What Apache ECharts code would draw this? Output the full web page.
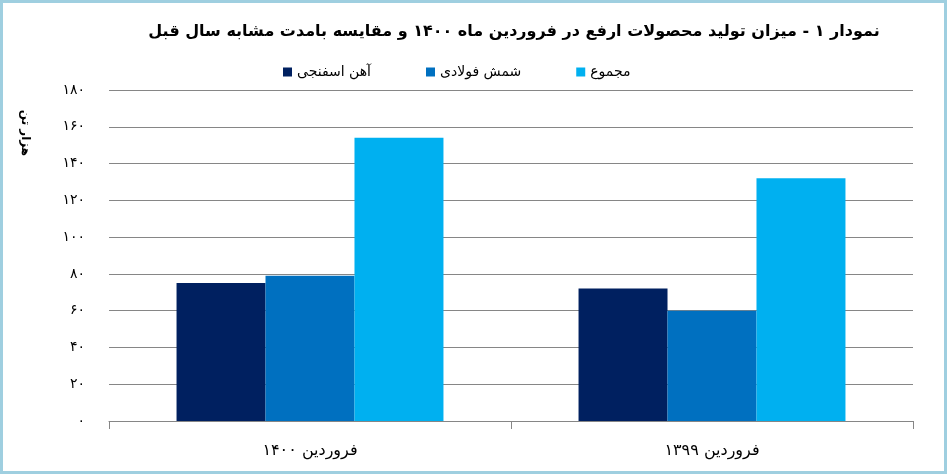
<!DOCTYPE html>
<html>
<head>
<meta charset="utf-8">
<script src="https://cdn.jsdelivr.net/npm/echarts@6/dist/echarts.min.js"></script>
<style>
  html, body { margin: 0; padding: 0; background: #fff; }
  #main { width: 947px; height: 474px; }
</style>
</head>
<body>
<div id="main"></div>
<script>
// data (thousand tonnes)
var categories = ['فروردین ۱۴۰۰', 'فروردین ۱۳۹۹'];
var seriesNames = ['آهن اسفنجی', 'شمش فولادی', 'مجموع'];
var spongeIron = [75, 72];
var steelBillet = [79, 60];
var total = [154, 132];
var faDigits = ['۰', '۱', '۲', '۳', '۴', '۵', '۶', '۷', '۸', '۹'];

var titleText = 'نمودار ۱ - میزان تولید محصولات ارفع در فروردین ماه ۱۴۰۰ و مقایسه بامدت مشابه سال قبل';
var yName = 'هزار تن';

function toFa(v) {
  return String(v).replace(/[0-9]/g, function (d) { return faDigits[+d]; });
}

var myChart = echarts.init(document.getElementById('main'));
var font = '"DejaVu Sans", sans-serif';

var option = {
  backgroundColor: '#fff',
  animation: false,
  title: {
    text: titleText,
    left: 509,
    top: 19,
    textAlign: 'center',
    textStyle: { fontFamily: font, fontSize: 16, fontWeight: 'bold', color: '#000' }
  },
  legend: {
    left: 278,
    top: 60,
    itemWidth: 9,
    itemHeight: 9,
    itemGap: 55,
    icon: 'rect',
    textStyle: { fontFamily: font, fontSize: 14, color: '#000' },
    data: seriesNames
  },
  grid: { left: 109, right: 34, top: 90, bottom: 53 },
  xAxis: {
    type: 'category',
    data: categories,
    axisLine: { lineStyle: { color: '#868686', width: 1 } },
    axisTick: { show: true, length: 8, lineStyle: { color: '#868686' } },
    axisLabel: { fontFamily: font, fontSize: 16, color: '#000', margin: 22 }
  },
  yAxis: {
    type: 'value',
    min: 0,
    max: 180,
    interval: 20,
    axisLine: { show: false },
    axisTick: { show: false },
    splitLine: { lineStyle: { color: '#868686', width: 1 } },
    axisLabel: {
      fontFamily: font, fontSize: 14, color: '#000', margin: 24,
      formatter: function (v) { return toFa(v); }
    }
  },
  series: [
    { name: seriesNames[0], type: 'bar', data: spongeIron, itemStyle: { color: '#002060' }, barGap: '0%', barCategoryGap: '33.6%' },
    { name: seriesNames[1], type: 'bar', data: steelBillet, itemStyle: { color: '#0070C0' }, barGap: '0%', barCategoryGap: '33.6%' },
    { name: seriesNames[2], type: 'bar', data: total, itemStyle: { color: '#00B0F0' }, barGap: '0%', barCategoryGap: '33.6%' }
  ],
  graphic: [
    {
      type: 'text',
      x: 25,
      y: 133,
      rotation: -Math.PI / 2,
      style: {
        text: yName,
        font: 'bold 12px "DejaVu Sans", sans-serif',
        fill: '#000',
        textAlign: 'center',
        textVerticalAlign: 'middle'
      }
    },
    {
      type: 'rect',
      shape: { x: 1.5, y: 1.5, width: 944, height: 471 },
      style: { fill: 'none', stroke: '#9fcfe0', lineWidth: 3 },
      silent: true
    }
  ]
};

option && myChart.setOption(option);
</script>
</body>
</html>
